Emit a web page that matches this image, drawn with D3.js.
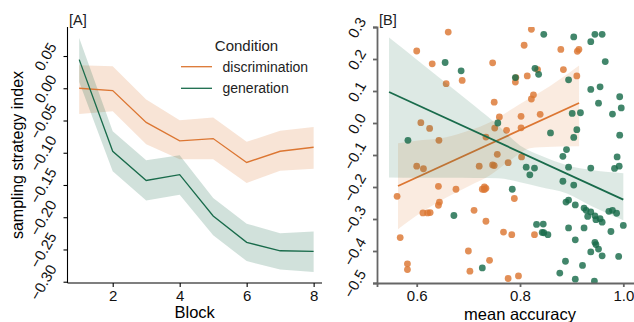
<!DOCTYPE html>
<html>
<head>
<meta charset="utf-8">
<script src="https://cdn.jsdelivr.net/npm/d3@7"></script>
<style>
  body { margin: 0; background: #fff; }
  text { font-family: "Liberation Sans", Arial, sans-serif; }
</style>
</head>
<body>
<div id="chart"></div>
<script>
// ---- panel A: sampling strategy index by block
const blocks = [1, 2, 3, 4, 5, 6, 7, 8];
const discMean = [0.000, -0.0036, -0.053, -0.0817, -0.078, -0.115, -0.0977, -0.0915];
const discLow = [-0.040, -0.0357, -0.0868, -0.110, -0.110, -0.1468, -0.128, -0.125];
const discHigh = [0.0357, 0.034, -0.0176, -0.0496, -0.0455, -0.083, -0.066, -0.060];
const genMean = [0.0444, -0.0977, -0.143, -0.134, -0.198, -0.239, -0.252, -0.253];
const genLow = [0.0098, -0.1287, -0.174, -0.165, -0.228, -0.268, -0.281, -0.2848];
const genHigh = [0.078, -0.0667, -0.1116, -0.104, -0.170, -0.210, -0.225, -0.222];

// ---- panel B: per participant accuracy vs index
const discAcc = [0.562, 0.568, 0.582, 0.582, 0.600, 0.600, 0.608, 0.613, 0.612, 0.621, 0.625, 0.626,
  0.630, 0.642, 0.643, 0.644, 0.642, 0.657, 0.661, 0.676, 0.688, 0.700, 0.703, 0.711, 0.721, 0.727,
  0.731, 0.734, 0.731, 0.734, 0.734, 0.741, 0.747, 0.747, 0.750, 0.750, 0.751, 0.756, 0.760, 0.768,
  0.774, 0.777, 0.777, 0.784, 0.791, 0.792, 0.789, 0.797, 0.802, 0.802, 0.803, 0.808, 0.814, 0.822,
  0.822, 0.826, 0.828, 0.834, 0.839, 0.879, 0.884, 0.910, 0.911, 0.914];
const discIdx = [-0.229, -0.358, -0.440, -0.458, 0.225, -0.135, 0.001, -0.143, -0.281, -0.281, -0.017, -0.280,
  0.185, -0.198, -0.054, -0.247, -0.257, 0.123, 0.284, -0.207, 0.133, -0.400, -0.463, -0.273, -0.135, -0.207,
  -0.200, -0.204, -0.208, -0.044, -0.307, -0.429, 0.188, -0.131, -0.133, 0.065, -0.016, -0.098, 0.019, -0.341,
  -0.023, -0.124, -0.486, -0.349, 0.128, 0.142, -0.236, -0.478, -0.015, 0.021, -0.106, 0.243, 0.147, 0.293,
  0.075, 0.088, -0.349, 0.167, 0.027, 0.230, 0.167, 0.147, 0.224, 0.230];
const genAcc = [0.583, 0.655, 0.686, 0.672, 0.727, 0.757, 0.785, 0.791, 0.812, 0.828, 0.819, 0.829,
  0.836, 0.846, 0.832, 0.845, 0.843, 0.846, 0.854, 0.859, 0.877, 0.883, 0.883, 0.888, 0.889, 0.894,
  0.894, 0.890, 0.894, 0.894, 0.901, 0.904, 0.904, 0.904, 0.907, 0.907, 0.907, 0.910, 0.917, 0.921,
  0.924, 0.928, 0.924, 0.931, 0.937, 0.937, 0.937, 0.937, 0.937, 0.944, 0.945, 0.945, 0.945, 0.947,
  0.947, 0.952, 0.952, 0.955, 0.955, 0.959, 0.959, 0.959, 0.965, 0.972, 0.979, 0.987, 0.976, 0.979,
  0.983, 0.988, 0.992, 0.993, 0.993, 0.996, 1.000, 0.991];
const genIdx = [-0.054, 0.189, 0.163, -0.289, -0.453, 0.000, -0.207, 0.142, -0.138, -0.141, -0.162, 0.171,
  0.152, 0.277, -0.317, -0.316, -0.342, -0.343, -0.349, -0.031, -0.469, -0.104, -0.182, -0.432, -0.247, -0.241,
  -0.138, -0.083, 0.135, -0.328, 0.030, 0.269, -0.045, -0.194, -0.256, -0.365, -0.488, -0.021, 0.032, -0.445,
  -0.266, -0.273, -0.328, -0.292, 0.254, 0.105, -0.141, -0.278, -0.403, -0.494, 0.277, -0.290, -0.373, -0.302,
  -0.380, -0.394, 0.062, 0.113, -0.299, -0.310, -0.415, 0.277, 0.192, -0.276, -0.273, -0.282, -0.339, 0.028,
  -0.142, -0.106, -0.135, 0.082, -0.038, 0.047, -0.320, -0.417];

// regression fits and confidence bands
const discFitAcc = [0.5638, 0.9143];
const discFit = [-0.197, 0.0625];
const discBandAcc = [0.5638, 0.6064, 0.6548, 0.7032, 0.7419, 0.7806, 0.8193, 0.8387, 0.9143];
const discBandLow = [-0.332, -0.282, -0.235, -0.195, -0.163, -0.117, -0.079, -0.076, -0.073];
const discBandHigh = [-0.063, -0.054, -0.045, -0.023, 0.002, 0.040, 0.078, 0.096, 0.180];
const genFitAcc = [0.5464, 1.0];
const genFit = [0.0969, -0.2394];
const genBandAcc = [0.5464, 0.6064, 0.6645, 0.7128, 0.7573, 0.7999, 0.8386, 0.8909, 0.9412, 1.0];
const genBandLow = [-0.170, -0.171, -0.171, -0.172, -0.173, -0.185, -0.200, -0.220, -0.262, -0.304];
const genBandHigh = [0.267, 0.190, 0.115, 0.052, -0.007, -0.070, -0.101, -0.132, -0.148, -0.157];

const conditions = ["discrimination", "generation"];
const colors = ["#dc7632", "#196b4b"];

const W = 634, H = 322;
const svg = d3.select("#chart").append("svg").attr("width", W).attr("height", H);

const tickFs = 15;

// rotate y tick labels by 60 degrees, right edge of box kept next to the axis
const rotTicks = (g, gap) => {
  g.selectAll(".tick text").each(function () {
    const len = this.getComputedTextLength();
    const w = len * 0.5 + tickFs * 0.8;
    d3.select(this)
      .attr("x", 0).attr("dy", null)
      .attr("text-anchor", "middle")
      .attr("dominant-baseline", "central")
      .attr("transform", "translate(" + (-gap - w / 2) + ",0) rotate(-60)");
  });
};

const styleAxis = (g, col, sw) => {
  g.select(".domain").attr("stroke", col).attr("stroke-width", sw);
  g.selectAll(".tick line").attr("stroke", col).attr("stroke-width", sw);
  g.selectAll(".tick text").attr("fill", "#111").style("font-size", tickFs + "px");
};

/* ---------- panel A ---------- */
const xA = d3.scaleLinear().domain([0.65, 8.25]).range([67.5, 322]);
const yA = d3.scaleLinear().domain([-0.302, 0.095]).range([283, 27]);

const gA = svg.append("g");
const bandsA = [[discLow, discHigh], [genLow, genHigh]];
const meansA = [discMean, genMean];

const area = d3.area().x((d) => xA(d[0])).y0((d) => yA(d[1])).y1((d) => yA(d[2]));
const lineA = d3.line().x((d) => xA(d[0])).y((d) => yA(d[1]));

conditions.forEach((c, i) => {
  const rows = blocks.map((b, j) => [b, bandsA[i][0][j], bandsA[i][1][j]]);
  gA.append("path").attr("d", area(rows)).attr("fill", colors[i]).attr("fill-opacity", 0.2);
});
conditions.forEach((c, i) => {
  const rows = blocks.map((b, j) => [b, meansA[i][j]]);
  gA.append("path").attr("d", lineA(rows)).attr("fill", "none")
    .attr("stroke", colors[i]).attr("stroke-width", 1.3);
});

const axA = gA.append("g").attr("transform", "translate(0,283)")
  .call(d3.axisBottom(xA).tickValues([2, 4, 6, 8]).tickSize(4).tickPadding(3));
styleAxis(axA, "#000", 1.1);
axA.select(".domain").attr("d", "M67.5,0H322");

const ayA = gA.append("g").attr("transform", "translate(67.5,0)")
  .call(d3.axisLeft(yA).tickValues([0.05, 0, -0.05, -0.10, -0.15, -0.20, -0.25, -0.30])
    .tickFormat(d3.format(".2f")).tickSize(4));
styleAxis(ayA, "#000", 1.1);
ayA.select(".domain").attr("d", "M0,27V283");
rotTicks(ayA, 9);

gA.append("text").attr("x", 69).attr("y", 25).style("font-size", "14.5px").attr("fill", "#222").text("[A]");
gA.append("text").attr("x", 194.7).attr("y", 318).attr("text-anchor", "middle")
  .style("font-size", "16.5px").text("Block");
gA.append("text").attr("transform", "translate(23,155) rotate(-90)").attr("text-anchor", "middle")
  .style("font-size", "16px").text("sampling strategy index");

// legend
const leg = gA.append("g");
leg.append("text").attr("x", 246.5).attr("y", 51).attr("text-anchor", "middle")
  .style("font-size", "15px").attr("fill", "#222").text("Condition");
conditions.forEach((c, i) => {
  const y = 66.7 + i * 21.6;
  leg.append("line").attr("x1", 181).attr("x2", 212).attr("y1", y).attr("y2", y)
    .attr("stroke", colors[i]).attr("stroke-width", 1.3);
  leg.append("text").attr("x", 222.5).attr("y", y + 5).style("font-size", "14px")
    .attr("fill", "#222").text(c);
});

/* ---------- panel B ---------- */
const xB = d3.scaleLinear().domain([0.5231, 1.0323]).range([377, 640]);
const yB = d3.scaleLinear().domain([-0.5, 0.3]).range([283, 27]);

const gB = svg.append("g");
const clip = svg.append("clipPath").attr("id", "clipB");
clip.append("rect").attr("x", 377).attr("y", 27).attr("width", 263).attr("height", 256);

const accs = [discAcc, genAcc];
const idxs = [discIdx, genIdx];
const fitX = [discFitAcc, genFitAcc];
const fitY = [discFit, genFit];
const bandX = [discBandAcc, genBandAcc];
const bandLo = [discBandLow, genBandLow];
const bandHi = [discBandHigh, genBandHigh];

const areaB = d3.area().curve(d3.curveMonotoneX)
  .x((d) => xB(d[0])).y0((d) => yB(d[1])).y1((d) => yB(d[2]));
const plotB = gB.append("g").attr("clip-path", "url(#clipB)");

conditions.forEach((c, i) => {
  plotB.append("g").selectAll("circle")
    .data(accs[i].map((a, j) => [a, idxs[i][j]]))
    .enter().append("circle")
    .attr("cx", (d) => xB(d[0])).attr("cy", (d) => yB(d[1]))
    .attr("r", 3.4).attr("fill", colors[i]).attr("fill-opacity", 0.82);
  const rows = bandX[i].map((a, j) => [a, bandLo[i][j], bandHi[i][j]]);
  plotB.append("path").attr("d", areaB(rows)).attr("fill", colors[i]).attr("fill-opacity", 0.15);
  plotB.append("line")
    .attr("x1", xB(fitX[i][0])).attr("x2", xB(fitX[i][1]))
    .attr("y1", yB(fitY[i][0])).attr("y2", yB(fitY[i][1]))
    .attr("stroke", colors[i]).attr("stroke-width", 1.8);
});

const axB = gB.append("g").attr("transform", "translate(0,283)")
  .call(d3.axisBottom(xB).tickValues([0.6, 0.8, 1.0]).tickFormat(d3.format(".1f")).tickSize(4).tickPadding(3));
styleAxis(axB, "#666", 1.8);

const ayB = gB.append("g").attr("transform", "translate(377,0)")
  .call(d3.axisLeft(yB).tickValues([0.3, 0.2, 0.1, 0, -0.1, -0.2, -0.3, -0.4, -0.5])
    .tickFormat(d3.format(".1f")).tickSize(4));
styleAxis(ayB, "#666", 1.8);
rotTicks(ayB, 9);

gB.append("text").attr("x", 379).attr("y", 25).style("font-size", "14.5px").attr("fill", "#222").text("[B]");
gB.append("text").attr("x", 520).attr("y", 320).attr("text-anchor", "middle")
  .style("font-size", "16.5px").text("mean accuracy");
</script>
</body>
</html>
